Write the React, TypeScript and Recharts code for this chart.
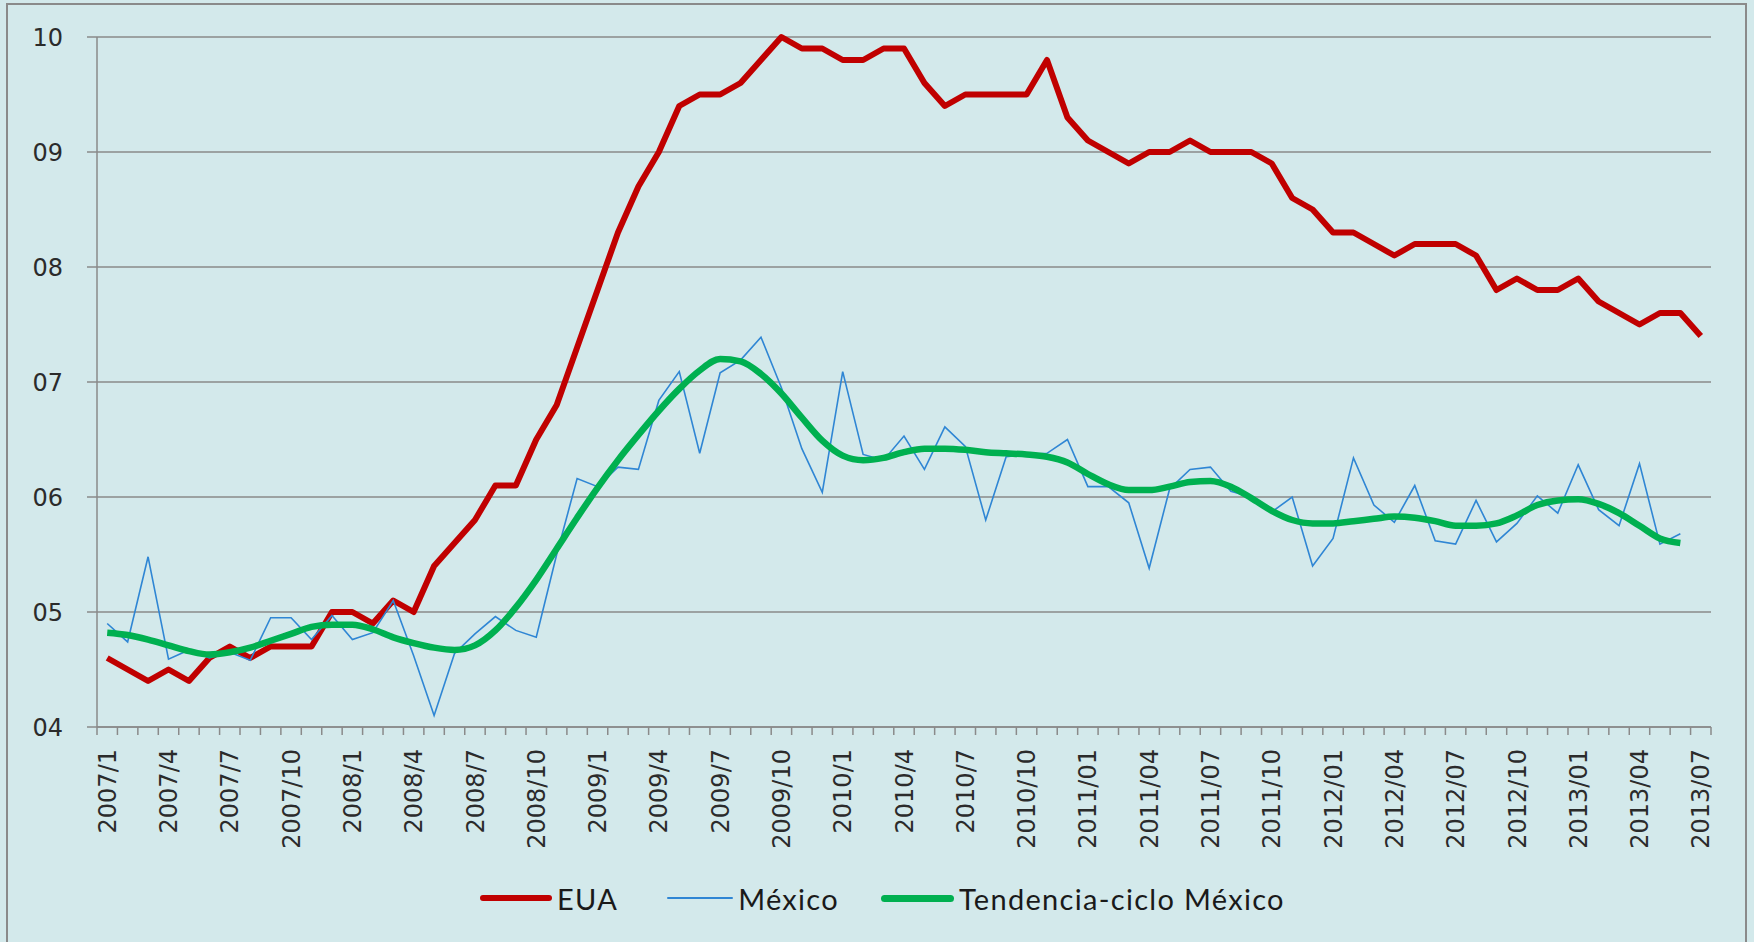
import React from 'react';
import { LineChart, Line, XAxis, YAxis, CartesianGrid, Legend } from 'recharts';

// categorías mensuales 2007/1 .. 2013/07
const anios = [2007, 2008, 2009, 2010, 2011, 2012, 2013];
const meses: string[] = anios.flatMap((a) =>
  Array.from({ length: a === 2013 ? 7 : 12 }, (_, k) =>
    a < 2011 ? `${a}/${k + 1}` : `${a}/${String(k + 1).padStart(2, '0')}`
  )
);

const eua = [
  4.6, 4.5, 4.4, 4.5, 4.4, 4.6, 4.7, 4.6, 4.7, 4.7, 4.7, 5.0,
  5.0, 4.9, 5.1, 5.0, 5.4, 5.6, 5.8, 6.1, 6.1, 6.5, 6.8, 7.3,
  7.8, 8.3, 8.7, 9.0, 9.4, 9.5, 9.5, 9.6, 9.8, 10.0, 9.9, 9.9,
  9.8, 9.8, 9.9, 9.9, 9.6, 9.4, 9.5, 9.5, 9.5, 9.5, 9.8, 9.3,
  9.1, 9.0, 8.9, 9.0, 9.0, 9.1, 9.0, 9.0, 9.0, 8.9, 8.6, 8.5,
  8.3, 8.3, 8.2, 8.1, 8.2, 8.2, 8.2, 8.1, 7.8, 7.9, 7.8, 7.8,
  7.9, 7.7, 7.6, 7.5, 7.6, 7.6, 7.4,
];

const mexico = [
  4.90, 4.74, 5.48, 4.59, 4.67, 4.60, 4.65, 4.58, 4.95, 4.95, 4.76, 4.97,
  4.76, 4.82, 5.10, 4.62, 4.10, 4.64, 4.81, 4.96, 4.84, 4.78, 5.50, 6.16,
  6.09, 6.26, 6.24, 6.84, 7.09, 6.38, 7.08, 7.19, 7.39, 6.95, 6.42, 6.04,
  7.09, 6.37, 6.32, 6.53, 6.24, 6.61, 6.44, 5.80, 6.35, 6.37, 6.38, 6.50,
  6.09, 6.09, 5.95, 5.38, 6.07, 6.24, 6.26, 6.05, 6.00, 5.87, 6.00, 5.40,
  5.64, 6.34, 5.93, 5.78, 6.10, 5.62, 5.59, 5.97, 5.61, 5.77, 6.01, 5.86,
  6.28, 5.89, 5.75, 6.29, 5.59, 5.68,
];

const tendencia = [
  4.82, 4.80, 4.76, 4.71, 4.66, 4.63, 4.65, 4.69, 4.75, 4.81, 4.87, 4.89,
  4.89, 4.85, 4.78, 4.73, 4.69, 4.67, 4.71, 4.84, 5.04, 5.28, 5.55, 5.82,
  6.08, 6.32, 6.54, 6.75, 6.94, 7.10, 7.20, 7.18, 7.07, 6.90, 6.69, 6.49,
  6.36, 6.32, 6.34, 6.39, 6.42, 6.42, 6.41, 6.39, 6.38, 6.37, 6.35, 6.30,
  6.20, 6.11, 6.06, 6.06, 6.09, 6.13, 6.14, 6.09, 5.99, 5.88, 5.80, 5.77,
  5.77, 5.79, 5.81, 5.83, 5.82, 5.79, 5.75, 5.75, 5.77, 5.84, 5.93, 5.97,
  5.98, 5.94, 5.86, 5.75, 5.64, 5.60,
];

const yTicks = [4, 5, 6, 7, 8, 9, 10];

const data = meses.map((mes, i) => ({
  mes,
  eua: eua[i],
  mexico: mexico[i] ?? null,
  tendencia: tendencia[i] ?? null,
}));

const W = 1754;
const H = 942;
const PLOT_W = 1614;
const HALF = PLOT_W / meses.length / 2;
const GRID = '#8a8a8a';
const AXIS_FONT = '"DejaVu Sans", Verdana, sans-serif';

const XTick = (props: any) => {
  const { x, y, payload } = props;
  const i = payload.index;
  return (
    <g>
      <line x1={x - HALF} x2={x - HALF} y1={y} y2={y + 8} stroke={GRID} strokeWidth={1.5} />
      {i === meses.length - 1 && (
        <line x1={x + HALF} x2={x + HALF} y1={y} y2={y + 8} stroke={GRID} strokeWidth={1.5} />
      )}
      {i % 3 === 0 && (
        <text
          x={x}
          y={y + 22}
          dy="0.36em"
          textAnchor="end"
          transform={`rotate(-90, ${x}, ${y + 22})`}
          fontSize={24}
          fontFamily={AXIS_FONT}
          fill="#2b2b2b"
        >
          {payload.value}
        </text>
      )}
    </g>
  );
};

const items = [
  { label: 'EUA', color: '#c00000', w: 72, h: 6, gap: 49 },
  { label: 'México', color: '#2f86d4', w: 66, h: 2, gap: 42 },
  { label: 'Tendencia-ciclo México', color: '#00b050', w: 73, h: 7, gap: 0 },
];

const LegendBox = () => (
  <div style={{ height: 60, position: 'relative' }}>
    <div
      style={{
        display: 'flex',
        alignItems: 'center',
        height: 32,
        paddingLeft: 480,
        fontFamily: 'Lato, sans-serif',
        fontSize: 29,
        letterSpacing: 1.3,
        color: '#1a1a1a',
      }}
    >
      {items.map((it) => (
        <div key={it.label} style={{ display: 'flex', alignItems: 'center', marginRight: it.gap }}>
          <span
            style={{
              display: 'inline-block',
              width: it.w,
              height: it.h,
              borderRadius: it.h / 2,
              background: it.color,
              marginRight: 5,
            }}
          />
          <span>{it.label}</span>
        </div>
      ))}
    </div>
  </div>
);

export default function App() {
  return (
    <div
      style={{
        position: 'absolute',
        left: 0,
        top: 0,
        width: W,
        height: H,
        background: '#d3e9eb',
        overflow: 'hidden',
      }}
    >
      <div
        style={{
          position: 'absolute',
          left: 6,
          top: 3,
          width: 1741,
          height: H,
          border: `2px solid ${GRID}`,
          boxSizing: 'border-box',
        }}
      />
      <LineChart
        width={W}
        height={H}
        data={data}
        margin={{ top: 37, right: 43, bottom: 0, left: 0 }}
      >
        <CartesianGrid vertical={false} stroke={GRID} strokeWidth={1.5} />
        <XAxis
          dataKey="mes"
          interval={0}
          height={155}
          padding={{ left: HALF, right: HALF }}
          tickLine={false}
          tickSize={0}
          tickMargin={0}
          tick={<XTick />}
          axisLine={{ stroke: GRID, strokeWidth: 1.5 }}
        />
        <YAxis
          width={97}
          domain={[4, 10]}
          ticks={yTicks}
          interval={0}
          tickFormatter={(v: number) => (v < 10 ? `0${v}` : `${v}`)}
          tickSize={10}
          tickMargin={24}
          tickLine={{ stroke: GRID, strokeWidth: 1.5 }}
          axisLine={{ stroke: GRID, strokeWidth: 1.5 }}
          tick={{ fontSize: 24, fontFamily: AXIS_FONT, fill: '#2b2b2b' }}
        />
        <Legend verticalAlign="bottom" content={<LegendBox />} wrapperStyle={{ left: 0, width: W }} />
        <Line
          type="linear"
          dataKey="eua"
          name="EUA"
          stroke="#c00000"
          strokeWidth={6}
          strokeLinejoin="round"
          dot={false}
          isAnimationActive={false}
        />
        <Line
          type="linear"
          dataKey="mexico"
          name="México"
          stroke="#2f86d4"
          strokeWidth={1.6}
          dot={false}
          isAnimationActive={false}
        />
        <Line
          type="monotone"
          dataKey="tendencia"
          name="Tendencia-ciclo México"
          stroke="#00b050"
          strokeWidth={6.5}
          dot={false}
          isAnimationActive={false}
        />
      </LineChart>
    </div>
  );
}
